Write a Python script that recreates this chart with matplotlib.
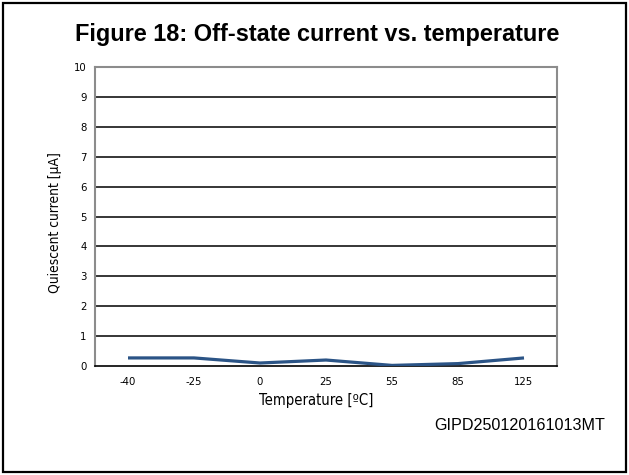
import matplotlib
matplotlib.use("Agg")
import matplotlib.pyplot as plt
from matplotlib.patches import Rectangle

categories = ["-40", "-25", "0", "25", "55", "85", "125"]
current_uA = [0.27, 0.27, 0.10, 0.20, 0.02, 0.08, 0.27]
yticks = list(range(0, 11))

W, H = 629, 475
fig = plt.figure(figsize=(W/100, H/100), dpi=100)
fig.patch.set_facecolor("white")

# outer frame
fig.patches.append(Rectangle((3/W, 3/H), (W-6)/W, (H-6)/H, transform=fig.transFigure,
                             fill=False, edgecolor="black", linewidth=1.6))

ax = fig.add_axes([95/W, 1-366/H, (557-95)/W, (366-67)/H])
x = list(range(len(categories)))
ax.plot(x, current_uA, color="#2B5486", linewidth=2.3, solid_capstyle="butt", zorder=3)
ax.set_xlim(-0.5, len(categories)-0.5)
ax.set_ylim(0, 10)
ax.set_yticks(yticks)
ax.set_xticks(x)
ax.set_xticklabels(categories)
for yv in yticks[1:-1]:
    ax.axhline(yv, color="black", linewidth=1.1, zorder=1)
for s in ["left", "top", "right"]:
    ax.spines[s].set_color("#8c8c8c")
    ax.spines[s].set_linewidth(1.5)
ax.spines["bottom"].set_color("black")
ax.spines["bottom"].set_linewidth(1.2)
ax.tick_params(axis="both", length=0, labelsize=7.3, colors="black")
ax.tick_params(axis="x", pad=8)
ax.tick_params(axis="y", pad=6)

fig.text(55/W, 1-223/H, "Quiescent current [µA]", ha="center", va="center",
         rotation=90, fontsize=9.9, fontstretch="condensed")
fig.text(316/W, 1-400/H, "Temperature [ºC]", ha="center", va="center", fontsize=10.6,
         fontstretch="condensed")

fig.text(317/W, 1-34/H, "Figure 18: Off-state current vs. temperature",
         ha="center", va="center", fontsize=16.9, fontweight="bold",
         family="Liberation Sans")
fig.text(605/W, 1-425/H, "GIPD250120161013MT", ha="right", va="center",
         fontsize=11.6, family="Liberation Sans")

fig.savefig("out.png", dpi=100)
